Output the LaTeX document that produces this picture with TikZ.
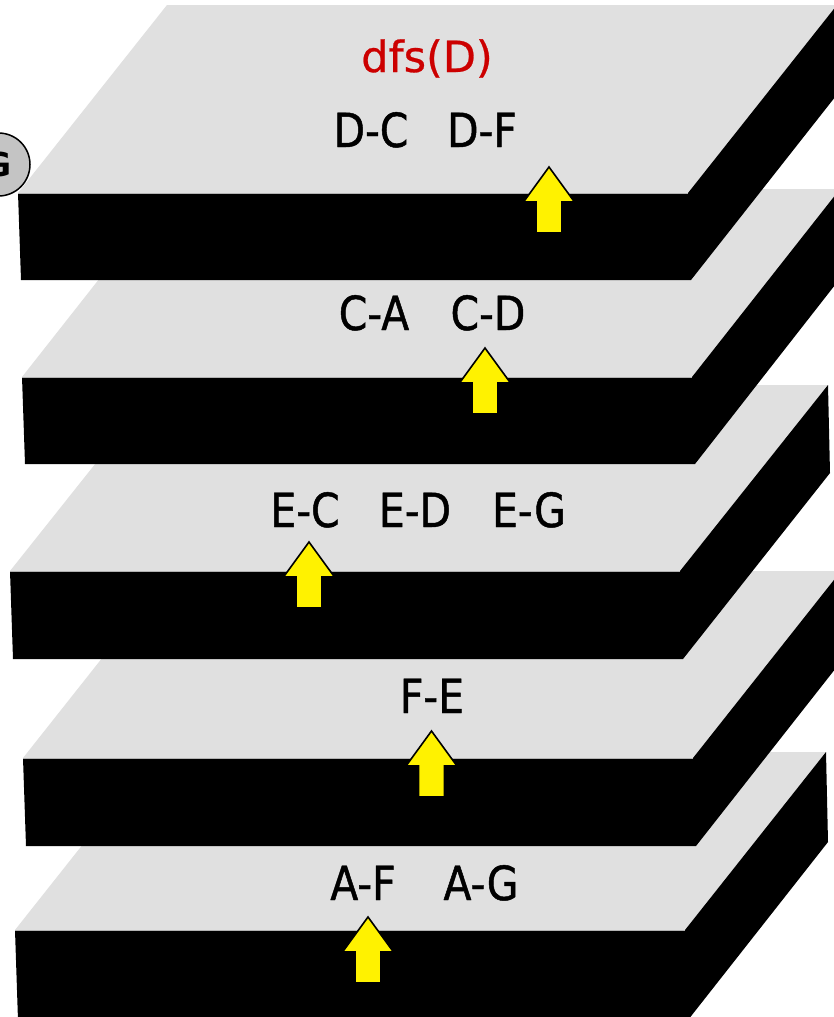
\documentclass[tikz,border=0pt]{standalone}
\usepackage{fontspec}
\setmainfont{DejaVu Sans}
\newfontfamily\edgefont[FakeStretch=0.87,FakeBold=1]{DejaVu Sans}
\newfontfamily\dfsfont[FakeBold=0.6]{DejaVu Sans}
\definecolor{topgray}{HTML}{E0E0E0}
\definecolor{dfsred}{HTML}{CC0000}
\definecolor{circgray}{HTML}{C4C4C4}
% slab: xL, yB (front top edge), dx, depth, thickness
\newcommand\myslab[5]{%
  \fill[topgray] (#1,#2) -- ++(670,0) -- ++(#3,-#4) -- ++(-670,0) -- cycle;
  \fill[black] (#1,#2) -- ++(670,0) -- ++(#3,-#4) -- ++(2,#5)
     -- ({#1+673},{#2+#5}) -- ({#1+3},{#2+#5}) -- cycle;
  \draw[gray!60, line width=0.8] (#1,#2) -- ++(670,0);
}
% arrow: x, y of tip
\newcommand\myarrow[2]{%
  \draw[fill=yellow, line width=1.6, line join=miter]
    (#1,#2) -- ({#1+25.5},{#2+35}) -- ({#1+13},{#2+35}) -- ({#1+13},{#2+66})
    -- ({#1-13},{#2+66}) -- ({#1-13},{#2+35}) -- ({#1-25.5},{#2+35}) -- cycle;
}
\tikzset{
  edgelbl/.style={anchor=base, inner sep=0pt, font=\edgefont\fontsize{47}{50}\selectfont},
  dfslbl/.style={anchor=base, inner sep=0pt, text=dfsred, font=\dfsfont\fontsize{43}{46}\selectfont},
  gnode/.style={circle, draw=black, line width=1.5, fill=circgray, minimum size=63pt, inner sep=0pt,
    font=\fontsize{33}{35}\selectfont\bfseries}
}
\begin{document}
\begin{tikzpicture}[x=1pt,y=-1pt]
\useasboundingbox (0,0) rectangle (834,1017);
\clip (0,0) rectangle (834,1017);
\fill[white] (0,0) rectangle (834,1017);

% slabs, bottom first
\myslab{15}{930}{141}{178}{90}
\myslab{23}{758}{148}{187}{88}
\myslab{10}{571}{148}{186}{88}
\myslab{22}{377}{148}{188}{87}
\myslab{18}{193}{149}{188}{87}

% slab 5
\node[edgelbl] (af) at (363,900) {A-F};
\node[edgelbl] (ag) at (481,900) {A-G};
\myarrow{368}{917}
% slab 4
\node[edgelbl] (fe) at (432,713) {F-E};
\myarrow{431.5}{731}
% slab 3
\node[edgelbl] (ec) at (305,527) {E-C};
\node[edgelbl] (ed) at (415,527) {E-D};
\node[edgelbl] (eg) at (529,527) {E-G};
\myarrow{309}{542}
% slab 2
\node[edgelbl] (ca) at (374,330) {C-A};
\node[edgelbl] (cd) at (488,330) {C-D};
\myarrow{485}{348}
% slab 1
\node[dfslbl] (dfs) at (427,72) {dfs(D)};
\node[edgelbl] (dc) at (371,147) {D-C};
\node[edgelbl] (df) at (482,147) {D-F};
\myarrow{549}{167}

% partly visible vertex G
\node[gnode] (g) at (-1.5,164.5) {G};
\end{tikzpicture}
\end{document}
